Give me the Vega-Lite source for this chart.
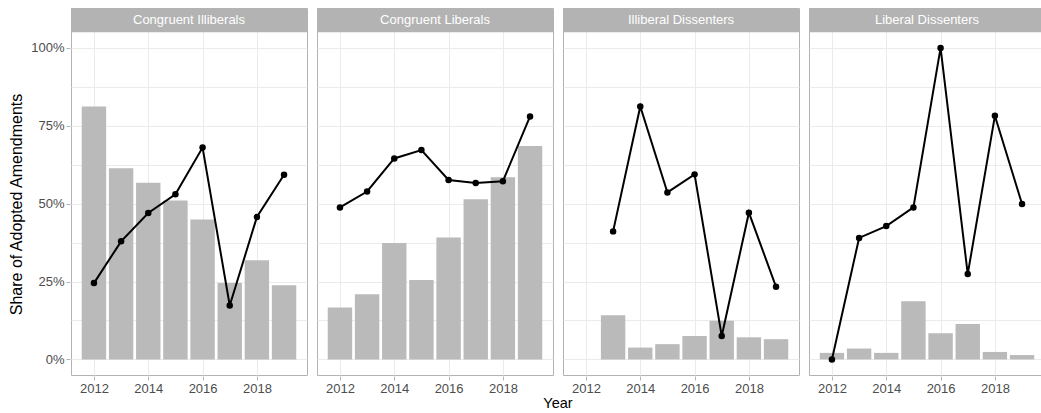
{
  "$schema": "https://vega.github.io/schema/vega-lite/v6.json",
  "background": "white",
  "padding": {"left": 8, "top": 7, "right": 1, "bottom": 0},
  "data": {
    "values": [
      {"group": "Congruent Illiberals", "year": 2012, "proposed": 81.2, "adopted": 24.5},
      {"group": "Congruent Illiberals", "year": 2013, "proposed": 61.4, "adopted": 37.9},
      {"group": "Congruent Illiberals", "year": 2014, "proposed": 56.7, "adopted": 47.0},
      {"group": "Congruent Illiberals", "year": 2015, "proposed": 51.0, "adopted": 53.0},
      {"group": "Congruent Illiberals", "year": 2016, "proposed": 44.9, "adopted": 68.0},
      {"group": "Congruent Illiberals", "year": 2017, "proposed": 24.5, "adopted": 17.3},
      {"group": "Congruent Illiberals", "year": 2018, "proposed": 31.8, "adopted": 45.7},
      {"group": "Congruent Illiberals", "year": 2019, "proposed": 23.8, "adopted": 59.3},
      {"group": "Congruent Liberals", "year": 2012, "proposed": 16.7, "adopted": 48.8},
      {"group": "Congruent Liberals", "year": 2013, "proposed": 20.9, "adopted": 53.9},
      {"group": "Congruent Liberals", "year": 2014, "proposed": 37.4, "adopted": 64.5},
      {"group": "Congruent Liberals", "year": 2015, "proposed": 25.5, "adopted": 67.2},
      {"group": "Congruent Liberals", "year": 2016, "proposed": 39.1, "adopted": 57.6},
      {"group": "Congruent Liberals", "year": 2017, "proposed": 51.4, "adopted": 56.6},
      {"group": "Congruent Liberals", "year": 2018, "proposed": 58.5, "adopted": 57.2},
      {"group": "Congruent Liberals", "year": 2019, "proposed": 68.5, "adopted": 78.0},
      {"group": "Illiberal Dissenters", "year": 2013, "proposed": 14.2, "adopted": 41.1},
      {"group": "Illiberal Dissenters", "year": 2014, "proposed": 3.8, "adopted": 81.2},
      {"group": "Illiberal Dissenters", "year": 2015, "proposed": 4.9, "adopted": 53.6},
      {"group": "Illiberal Dissenters", "year": 2016, "proposed": 7.5, "adopted": 59.4},
      {"group": "Illiberal Dissenters", "year": 2017, "proposed": 12.4, "adopted": 7.5},
      {"group": "Illiberal Dissenters", "year": 2018, "proposed": 7.1, "adopted": 47.1},
      {"group": "Illiberal Dissenters", "year": 2019, "proposed": 6.5, "adopted": 23.3},
      {"group": "Liberal Dissenters", "year": 2012, "proposed": 2.1, "adopted": 0.0},
      {"group": "Liberal Dissenters", "year": 2013, "proposed": 3.5, "adopted": 39.0},
      {"group": "Liberal Dissenters", "year": 2014, "proposed": 2.1, "adopted": 42.8},
      {"group": "Liberal Dissenters", "year": 2015, "proposed": 18.7, "adopted": 48.8},
      {"group": "Liberal Dissenters", "year": 2016, "proposed": 8.4, "adopted": 100.0},
      {"group": "Liberal Dissenters", "year": 2017, "proposed": 11.4, "adopted": 27.4},
      {"group": "Liberal Dissenters", "year": 2018, "proposed": 2.4, "adopted": 78.2},
      {"group": "Liberal Dissenters", "year": 2019, "proposed": 1.4, "adopted": 49.9}
    ]
  },
  "facet": {
    "column": {
      "field": "group",
      "type": "nominal",
      "header": {
        "title": "Year",
        "titleOrient": "bottom",
        "labels": false,
        "titleFontSize": 14.5,
        "titleFontWeight": "normal",
        "titleColor": "black",
        "titlePadding": -8
      }
    }
  },
  "spacing": 8,
  "spec": {
    "width": 236,
    "height": 367,
    "layer": [
      {
        "mark": {"type": "bar", "color": "#bababa", "width": 24.4},
        "encoding": {
          "x": {
            "field": "year",
            "type": "quantitative",
            "scale": {"domain": [2011.155, 2019.845], "nice": false, "zero": false, "padding": 0},
            "axis": {
              "title": null,
              "values": [2012, 2013, 2014, 2015, 2016, 2017, 2018, 2019],
              "labelExpr": "datum.value % 2 == 0 ? '' + datum.value : ''",
              "labelOverlap": false,
              "labelFlush": false,
              "labelFontSize": 13,
              "labelColor": "#4d4d4d",
              "labelPadding": 2,
              "domain": false,
              "grid": true,
              "gridColor": "#ebebeb",
              "gridWidth": 1,
              "tickSize": 4,
              "tickColor": {"condition": {"test": "datum.value % 2 == 0", "value": "#b3b3b3"}, "value": "transparent"}
            }
          },
          "y": {
            "field": "proposed",
            "type": "quantitative",
            "scale": {"domain": [-5, 112.8], "nice": false, "zero": false, "padding": 0},
            "axis": {
              "title": "Share of Adopted Amendments",
              "titleFontSize": 16,
              "titleFontWeight": "normal",
              "titleColor": "black",
              "titleY": 196,
              "titlePadding": 6,
              "values": [0, 12.5, 25, 37.5, 50, 62.5, 75, 87.5, 100],
              "labelExpr": "datum.value % 25 == 0 ? datum.value + '%' : ''",
              "labelOverlap": false,
              "labelFontSize": 13,
              "labelColor": "#4d4d4d",
              "labelPadding": 2,
              "domain": false,
              "grid": true,
              "gridColor": "#ebebeb",
              "gridWidth": 1,
              "tickSize": 4,
              "tickColor": {"condition": {"test": "datum.value % 25 == 0", "value": "#b3b3b3"}, "value": "transparent"}
            }
          },
          "y2": {"datum": 0}
        }
      },
      {
        "transform": [{"filter": "datum.year == 2015"}],
        "mark": {"type": "rect", "color": "#b3b3b3"},
        "encoding": {
          "x": {"datum": 2011.155},
          "x2": {"datum": 2019.845},
          "y": {"datum": 105},
          "y2": {"datum": 112.8}
        }
      },
      {
        "mark": {"type": "line", "color": "black", "strokeWidth": 2},
        "encoding": {
          "x": {"field": "year", "type": "quantitative"},
          "y": {"field": "adopted", "type": "quantitative"}
        }
      },
      {
        "mark": {"type": "circle", "color": "black", "size": 42, "opacity": 1},
        "encoding": {
          "x": {"field": "year", "type": "quantitative"},
          "y": {"field": "adopted", "type": "quantitative"}
        }
      },
      {
        "transform": [{"filter": "datum.year == 2015"}],
        "mark": {"type": "text", "color": "white", "fontSize": 13, "baseline": "middle", "align": "center"},
        "encoding": {
          "x": {"datum": 2015.5},
          "y": {"datum": 108.9},
          "text": {"field": "group"}
        }
      }
    ]
  },
  "config": {
    "font": "Liberation Sans",
    "view": {"stroke": "#b3b3b3", "strokeWidth": 1}
  }
}
